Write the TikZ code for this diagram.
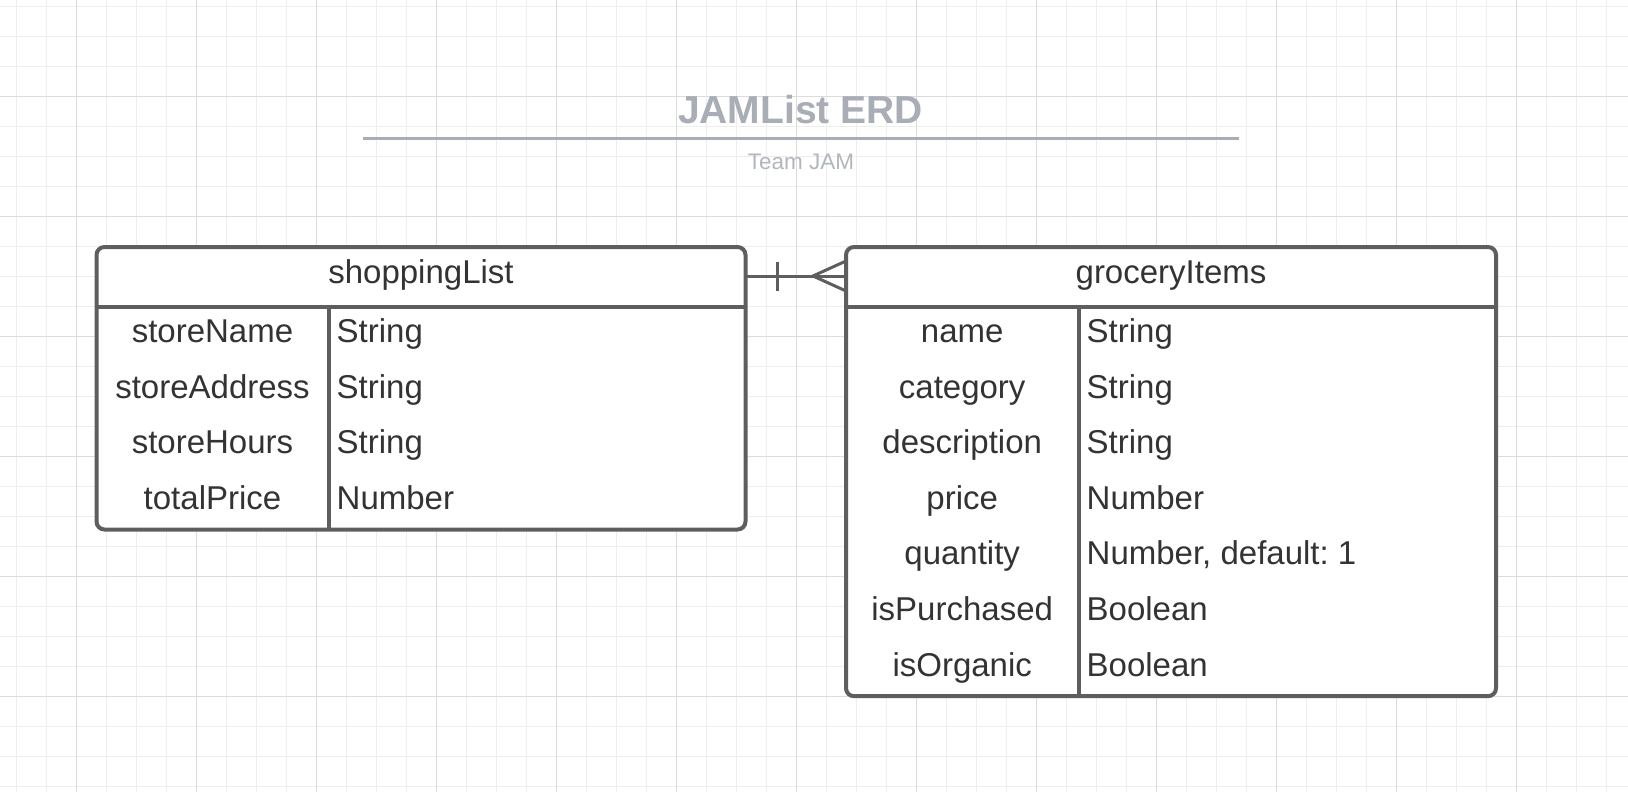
\documentclass[tikz,border=0pt]{standalone}
\usepackage{fontspec}
\setmainfont{Liberation Sans}
\usetikzlibrary{calc}
\frenchspacing
\definecolor{gridminor}{HTML}{EEEEEE}
\definecolor{gridmajor}{HTML}{DCDCDC}
\definecolor{boxline}{HTML}{5E5E5E}
\definecolor{txt}{HTML}{333333}
\definecolor{titlecol}{HTML}{A9ADB5}
\definecolor{subcol}{HTML}{B2B6BD}
\tikzset{
  erbox/.style={draw=boxline, line width=4pt, rounded corners=8pt, fill=white, inner sep=0pt, outer sep=0pt},
  sepline/.style={draw=boxline, line width=4pt},
  conn/.style={draw=boxline, line width=3pt},
  hdrtext/.style={font=\fontsize{33}{37}\selectfont, text=txt, anchor=base, inner sep=0pt},
  keytext/.style={font=\fontsize{33}{37}\selectfont, text=txt, anchor=base, inner sep=0pt},
  valtext/.style={font=\fontsize{33}{37}\selectfont, text=txt, anchor=base west, inner sep=0pt},
}
\begin{document}
\begin{tikzpicture}[x=1pt,y=-1pt]
\useasboundingbox (0,0) rectangle (1628,792);
\fill[white] (0,0) rectangle (1628,792);
% grid
\foreach \x in {16.7,46.7,...,1628} \draw[gridminor,line width=1pt] (\x,0) -- (\x,792);
\foreach \y in {6.7,36.7,...,792} \draw[gridminor,line width=1pt] (0,\y) -- (1628,\y);
\foreach \x in {76.7,196.7,...,1628} \draw[gridmajor,line width=1.2pt] (\x,0) -- (\x,792);
\foreach \y in {96.7,216.7,...,792} \draw[gridmajor,line width=1.2pt] (0,\y) -- (1628,\y);
% title
\node[font=\fontsize{39}{44}\selectfont\bfseries, text=titlecol, anchor=base, inner sep=0pt] (title) at (800.5,123.3) {JAMList ERD};
\coordinate (tl) at (363.4,138.3);
\coordinate (tr) at (1238.7,138.3);
\draw[titlecol, line width=3pt] (tl) -- (tr);
\node[font=\fontsize{22.5}{26}\selectfont, text=subcol, anchor=base, inner sep=0pt] (sub) at (801,169) {Team JAM};
% connector
\coordinate (ya) at (0,276);
% boxes
\node[erbox, minimum width=649pt, minimum height=282.5pt] (sl) at (421,388.25) {};
\node[erbox, minimum width=650pt, minimum height=449.2pt] (gi) at (1171,471.6) {};
\draw[conn] (sl.east |- ya) -- (gi.west |- ya);
\coordinate (bar) at (777.7,276);
\draw[conn] ($(bar)+(0,-14.5)$) -- ($(bar)+(0,14.5)$);
\draw[conn] ($(gi.west |- ya)+(0,-15)$) -- ($(gi.west |- ya)+(-33,0)$) -- ($(gi.west |- ya)+(0,15)$);
% internal lines shoppingList
\draw[sepline] (96.5,307) -- (745.5,307);
\draw[sepline] (328.5,307) -- (328.5,529.5);
% internal lines groceryItems
\draw[sepline] (846,307) -- (1496,307);
\draw[sepline] (1078.5,307) -- (1078.5,696.2);
% headers
\node[hdrtext] (slh) at (421,283.5) {shoppingList};
\node[hdrtext] (gih) at (1171,283.5) {groceryItems};
% rows
\foreach \k/\v [count=\i from 0] in {storeName/String, storeAddress/String, storeHours/String, totalPrice/Number} {
  \node[keytext] (slk\i) at (212.5,342.5+55.6*\i) {\k};
  \node[valtext] (slv\i) at (336.5,342.5+55.6*\i) {\v};
}
\foreach \k/\v [count=\i from 0] in {name/String, category/String, description/String, price/Number, quantity/{Number, default: 1}, isPurchased/Boolean, isOrganic/Boolean} {
  \node[keytext] (gik\i) at (962.2,342.5+55.6*\i) {\k};
  \node[valtext] (giv\i) at (1086.5,342.5+55.6*\i) {\v};
}
\end{tikzpicture}
\end{document}
